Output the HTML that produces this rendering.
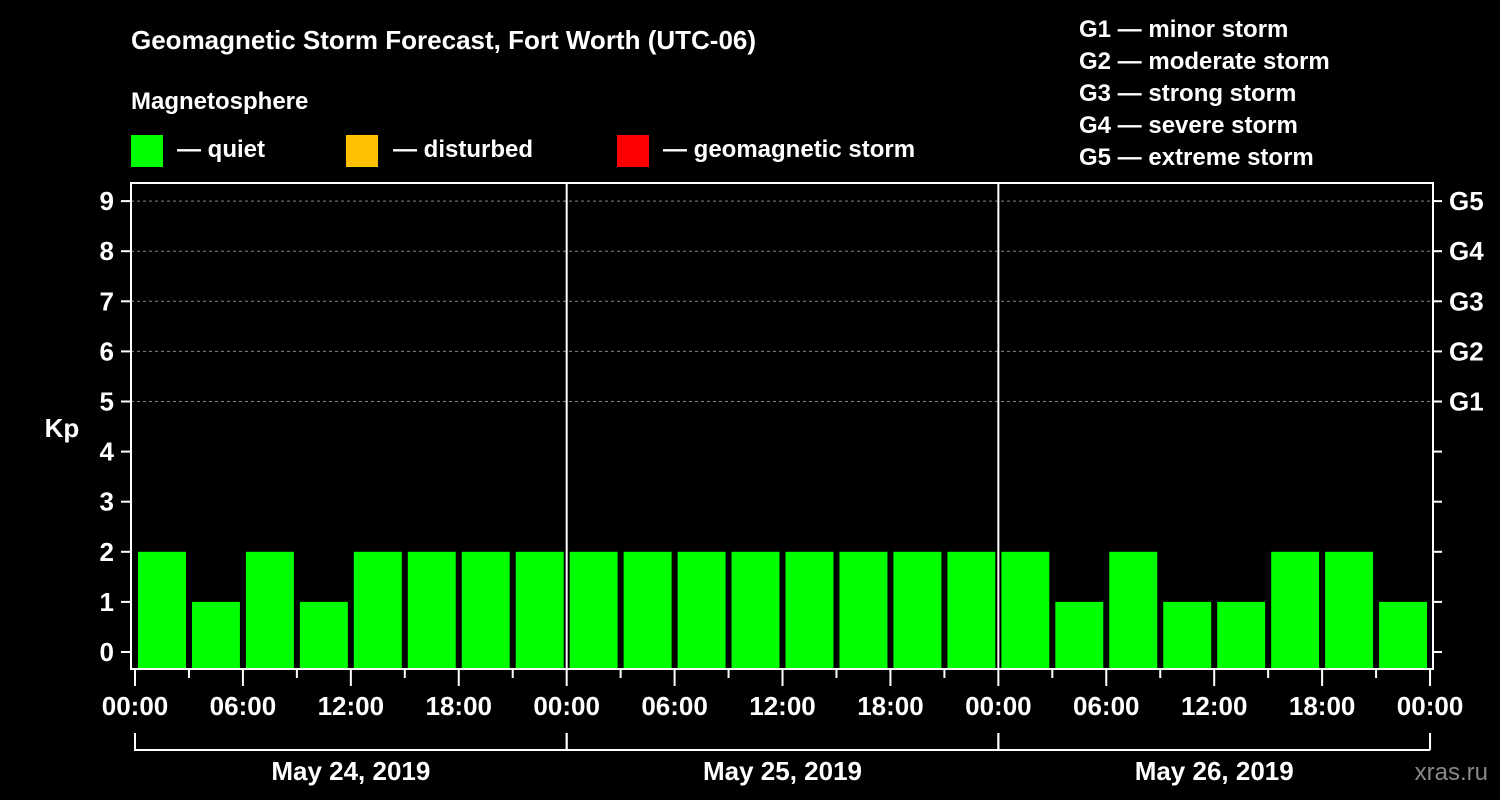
<!DOCTYPE html>
<html><head><meta charset="utf-8"><style>
body{margin:0;background:#000;}
svg{display:block;font-family:"Liberation Sans",sans-serif;font-weight:bold;}
</style></head><body>
<svg id="c" width="1500" height="800">
<text x="131" y="49" fill="#fff" font-size="26">Geomagnetic Storm Forecast, Fort Worth (UTC-06)</text>
<text x="131" y="109" fill="#fff" font-size="24">Magnetosphere</text>
<g><rect x="131" y="135" width="32" height="32" fill="#00ff00"/><text x="177" y="157" fill="#fff" font-size="24">— quiet</text></g>
<g><rect x="346" y="135" width="32" height="32" fill="#ffc000"/><text x="393" y="157" fill="#fff" font-size="24">— disturbed</text></g>
<g><rect x="617" y="135" width="32" height="32" fill="#ff0000"/><text x="663" y="157" fill="#fff" font-size="24">— geomagnetic storm</text></g>
<g fill="#fff" font-size="24">
<text x="1079" y="37">G1 — minor storm</text><text x="1079" y="69">G2 — moderate storm</text><text x="1079" y="101">G3 — strong storm</text><text x="1079" y="133">G4 — severe storm</text><text x="1079" y="165">G5 — extreme storm</text></g>
<text x="62" y="437" fill="#fff" font-size="26" text-anchor="middle">Kp</text>
<text x="1488" y="780" fill="#888" font-size="24" text-anchor="end" font-weight="normal">xras.ru</text>
<g id="plot"></g>
</svg>
<script>
const kpValues=[2,1,2,1,2,2,2,2, 2,2,2,2,2,2,2,2, 2,1,2,1,1,2,2,1];
const dayLabels=["May 24, 2019","May 25, 2019","May 26, 2019"];
const hourLabels=["00:00","06:00","12:00","18:00"];
const gLabels=["G1","G2","G3","G4","G5"];
const NS="http://www.w3.org/2000/svg";
const g=document.getElementById('plot');
const X0=135,SLOT=53.96,L=131,R=1433,T=183,B=669;
const x=i=>X0+i*SLOT;
const y=k=>652-50.1*k;
function mk(t,a,p){const e=document.createElementNS(NS,t);for(const k in a)e.setAttribute(k,a[k]);(p||g).appendChild(e);return e;}
// grid
for(let k=5;k<=9;k++){const l=mk('line',{x1:L,x2:R,y1:y(k),y2:y(k),stroke:'#888','stroke-dasharray':'3,3','stroke-width':1});

}
// bars
kpValues.forEach((v,i)=>{const b=mk('rect',{x:x(i)+3,y:y(v),width:SLOT-6,height:668-y(v),fill:v>=5?'#ff0000':v>=4?'#ffc000':'#00ff00'});

});
// frame
const f=mk('rect',{x:L,y:T,width:R-L,height:B-T,fill:'none',stroke:'#fff','stroke-width':2});


for(let d=1;d<dayLabels.length;d++){const l=mk('line',{x1:x(d*8),x2:x(d*8),y1:T,y2:B,stroke:'#fff','stroke-width':2});

}
// y ticks
for(let k=0;k<=9;k++){
 mk('line',{x1:121,x2:L,y1:y(k),y2:y(k),stroke:'#fff','stroke-width':2});
 mk('line',{x1:R,x2:1442,y1:y(k),y2:y(k),stroke:'#fff','stroke-width':2});
 const t=mk('text',{x:114,y:y(k)+9,fill:'#fff','font-size':26,'text-anchor':'end'});t.textContent=k;
 
 
 if(k>=5){const gt=mk('text',{x:1449,y:y(k)+9,fill:'#fff','font-size':26});gt.textContent=gLabels[k-5];
 
 }
}
// x ticks
for(let i=0;i<=24;i++){const major=i%2==0;
 mk('line',{x1:x(i),x2:x(i),y1:B,y2:major?686:678,stroke:'#fff','stroke-width':2});
 if(major){const t=mk('text',{x:x(i),y:715,fill:'#fff','font-size':26,'text-anchor':'middle'});
 t.textContent=hourLabels[(i/2)%4];
 
 }}
// day brackets
dayLabels.forEach((d,j)=>{
 const a=x(j*8),b=x(j*8+8);
 mk('path',{d:`M${a},733V750H${b}M${b},733V750`,stroke:'#fff','stroke-width':2,fill:'none'});
 const t=mk('text',{x:(a+b)/2,y:780,fill:'#fff','font-size':26,'text-anchor':'middle'});t.textContent=d;
 
 });
</script>
</body></html>
